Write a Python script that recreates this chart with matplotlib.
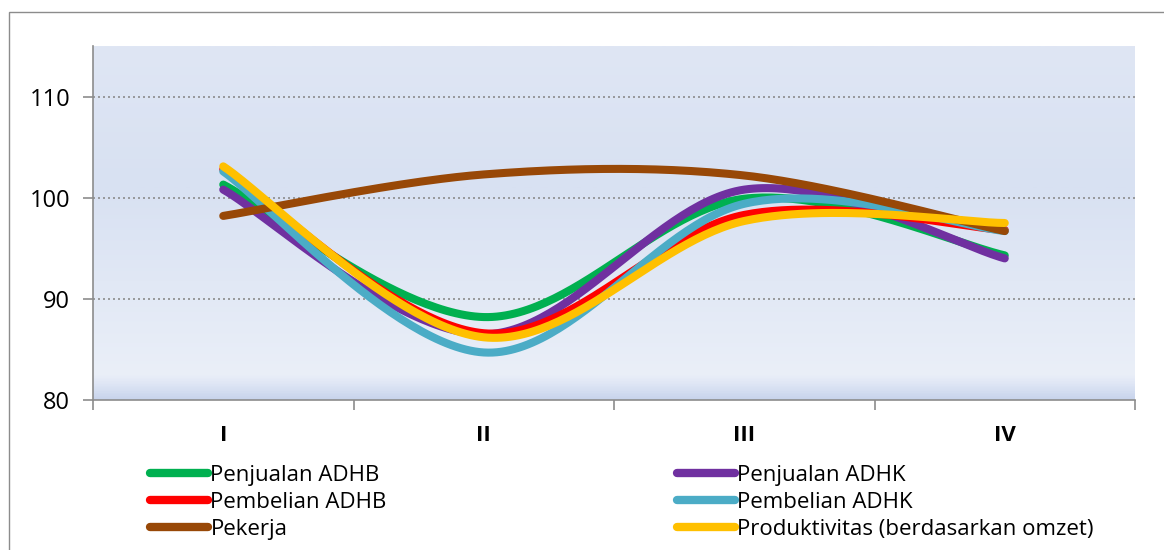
import numpy as np
import matplotlib
matplotlib.use("Agg")
import matplotlib.pyplot as plt
from matplotlib.patches import Rectangle
from matplotlib.colors import LinearSegmentedColormap

plt.rcParams['font.family'] = ['Open Sans', 'DejaVu Sans']

quarters = ["I", "II", "III", "IV"]
penjualan_adhb = [101.3, 88.2, 99.9, 94.3]
penjualan_adhk = [100.8, 86.5, 100.8, 94.0]
pembelian_adhb = [102.8, 86.6, 98.3, 96.8]
pembelian_adhk = [102.6, 84.7, 99.4, 96.7]
pekerja = [98.2, 102.3, 102.2, 96.7]
produktivitas = [103.1, 86.2, 97.7, 97.5]

series = [
    ("Penjualan ADHB", penjualan_adhb, "#00b050"),
    ("Penjualan ADHK", penjualan_adhk, "#7030a0"),
    ("Pembelian ADHB", pembelian_adhb, "#ff0000"),
    ("Pembelian ADHK", pembelian_adhk, "#4bacc6"),
    ("Pekerja", pekerja, "#984807"),
    ("Produktivitas (berdasarkan omzet)", produktivitas, "#ffc000"),
]


def smooth(xs, ys, n=60):
    xs = np.asarray(xs, float)
    ys = np.asarray(ys, float)
    P = np.column_stack([xs, ys])
    out = []
    for i in range(len(P) - 1):
        p0 = P[i - 1] if i > 0 else P[i]
        p1 = P[i]
        p2 = P[i + 1]
        p3 = P[i + 2] if i + 2 < len(P) else P[i + 1]
        c1 = p1 + (p2 - p0) / 6.0
        c2 = p2 - (p3 - p1) / 6.0
        t = np.linspace(0, 1, n)[:, None]
        seg = ((1 - t) ** 3) * p1 + 3 * ((1 - t) ** 2) * t * c1 + 3 * (1 - t) * t ** 2 * c2 + t ** 3 * p2
        out.append(seg if i == 0 else seg[1:])
    out = np.vstack(out)
    return out[:, 0], out[:, 1]


fig = plt.figure(figsize=(11.64, 5.5), dpi=100)
fig.patch.set_facecolor("white")
fig.patches.append(Rectangle((9 / 1164, -0.2), 1.2, 1 - 12 / 550 + 0.2,
                             transform=fig.transFigure, fill=False,
                             edgecolor="#8c8c8c", linewidth=1.0, zorder=0))

ax = fig.add_axes([93 / 1164, 1 - 400 / 550, (1135 - 93) / 1164, (400 - 46) / 550])
ax.set_xlim(0, 4)
ax.set_ylim(80, 115)

# gradient background (row 0 = top)
cmap = LinearSegmentedColormap.from_list("bg", [
    (0.0, "#dfe6f4"), (0.4, "#d8e1f2"), (0.93, "#eaeff8"),
    (0.957, "#dfe6f5"), (1.0, "#c8d4ec")])
grad = np.linspace(0, 1, 400)[:, None]
ax.imshow(grad, cmap=cmap, aspect="auto", extent=[0, 4, 80, 115],
          origin="upper", zorder=0, interpolation="bilinear")
ax.set_xlim(0, 4)
ax.set_ylim(80, 115)

for v in [90, 100, 110]:
    ax.axhline(v, color="#8c8c8c", linestyle=(0, (1.2, 1.8)), linewidth=1.2, zorder=1)

xpos = np.arange(len(quarters)) + 0.5
for name, vals, col in series:
    sx, sy = smooth(xpos, vals)
    ax.plot(sx, sy, color=col, linewidth=5.8, solid_capstyle="round",
            solid_joinstyle="round", label=name, zorder=3)

for s in ["top", "right"]:
    ax.spines[s].set_visible(False)
for s in ["left", "bottom"]:
    ax.spines[s].set_color("#8c8c8c")
    ax.spines[s].set_linewidth(1.2)

ax.set_yticks([80, 90, 100, 110])
ax.tick_params(axis="y", direction="out", length=7, width=1.2, color="#8c8c8c",
               labelsize=17, pad=9.5, labelcolor="black")
ax.set_xticks([0, 1, 2, 3, 4])
ax.set_xticklabels([])
ax.set_xticks(xpos, minor=True)
ax.set_xticklabels(quarters, minor=True, fontweight="bold", fontsize=16)
ax.tick_params(axis="x", which="major", direction="out", length=7, width=1.2, color="#8c8c8c")
ax.tick_params(axis="x", which="minor", length=0, pad=18)

handles, labels = ax.get_legend_handles_labels()
left_idx = [0, 2, 4]
right_idx = [1, 3, 5]
common = dict(loc="upper left", frameon=False, fontsize=16, handlelength=2.6,
              handletextpad=0.12, labelspacing=0.27, borderpad=0, borderaxespad=0)
leg1 = fig.legend([handles[i] for i in left_idx], [labels[i] for i in left_idx],
                  bbox_to_anchor=(150 / 1164, 1 - 465 / 550), **common)
leg2 = fig.legend([handles[i] for i in right_idx], [labels[i] for i in right_idx],
                  bbox_to_anchor=(677 / 1164, 1 - 465 / 550), **common)
for leg in (leg1, leg2):
    for h in leg.get_lines():
        h.set_linewidth(6)
        h.set_solid_capstyle("round")

fig.savefig("out.png", dpi=100)
